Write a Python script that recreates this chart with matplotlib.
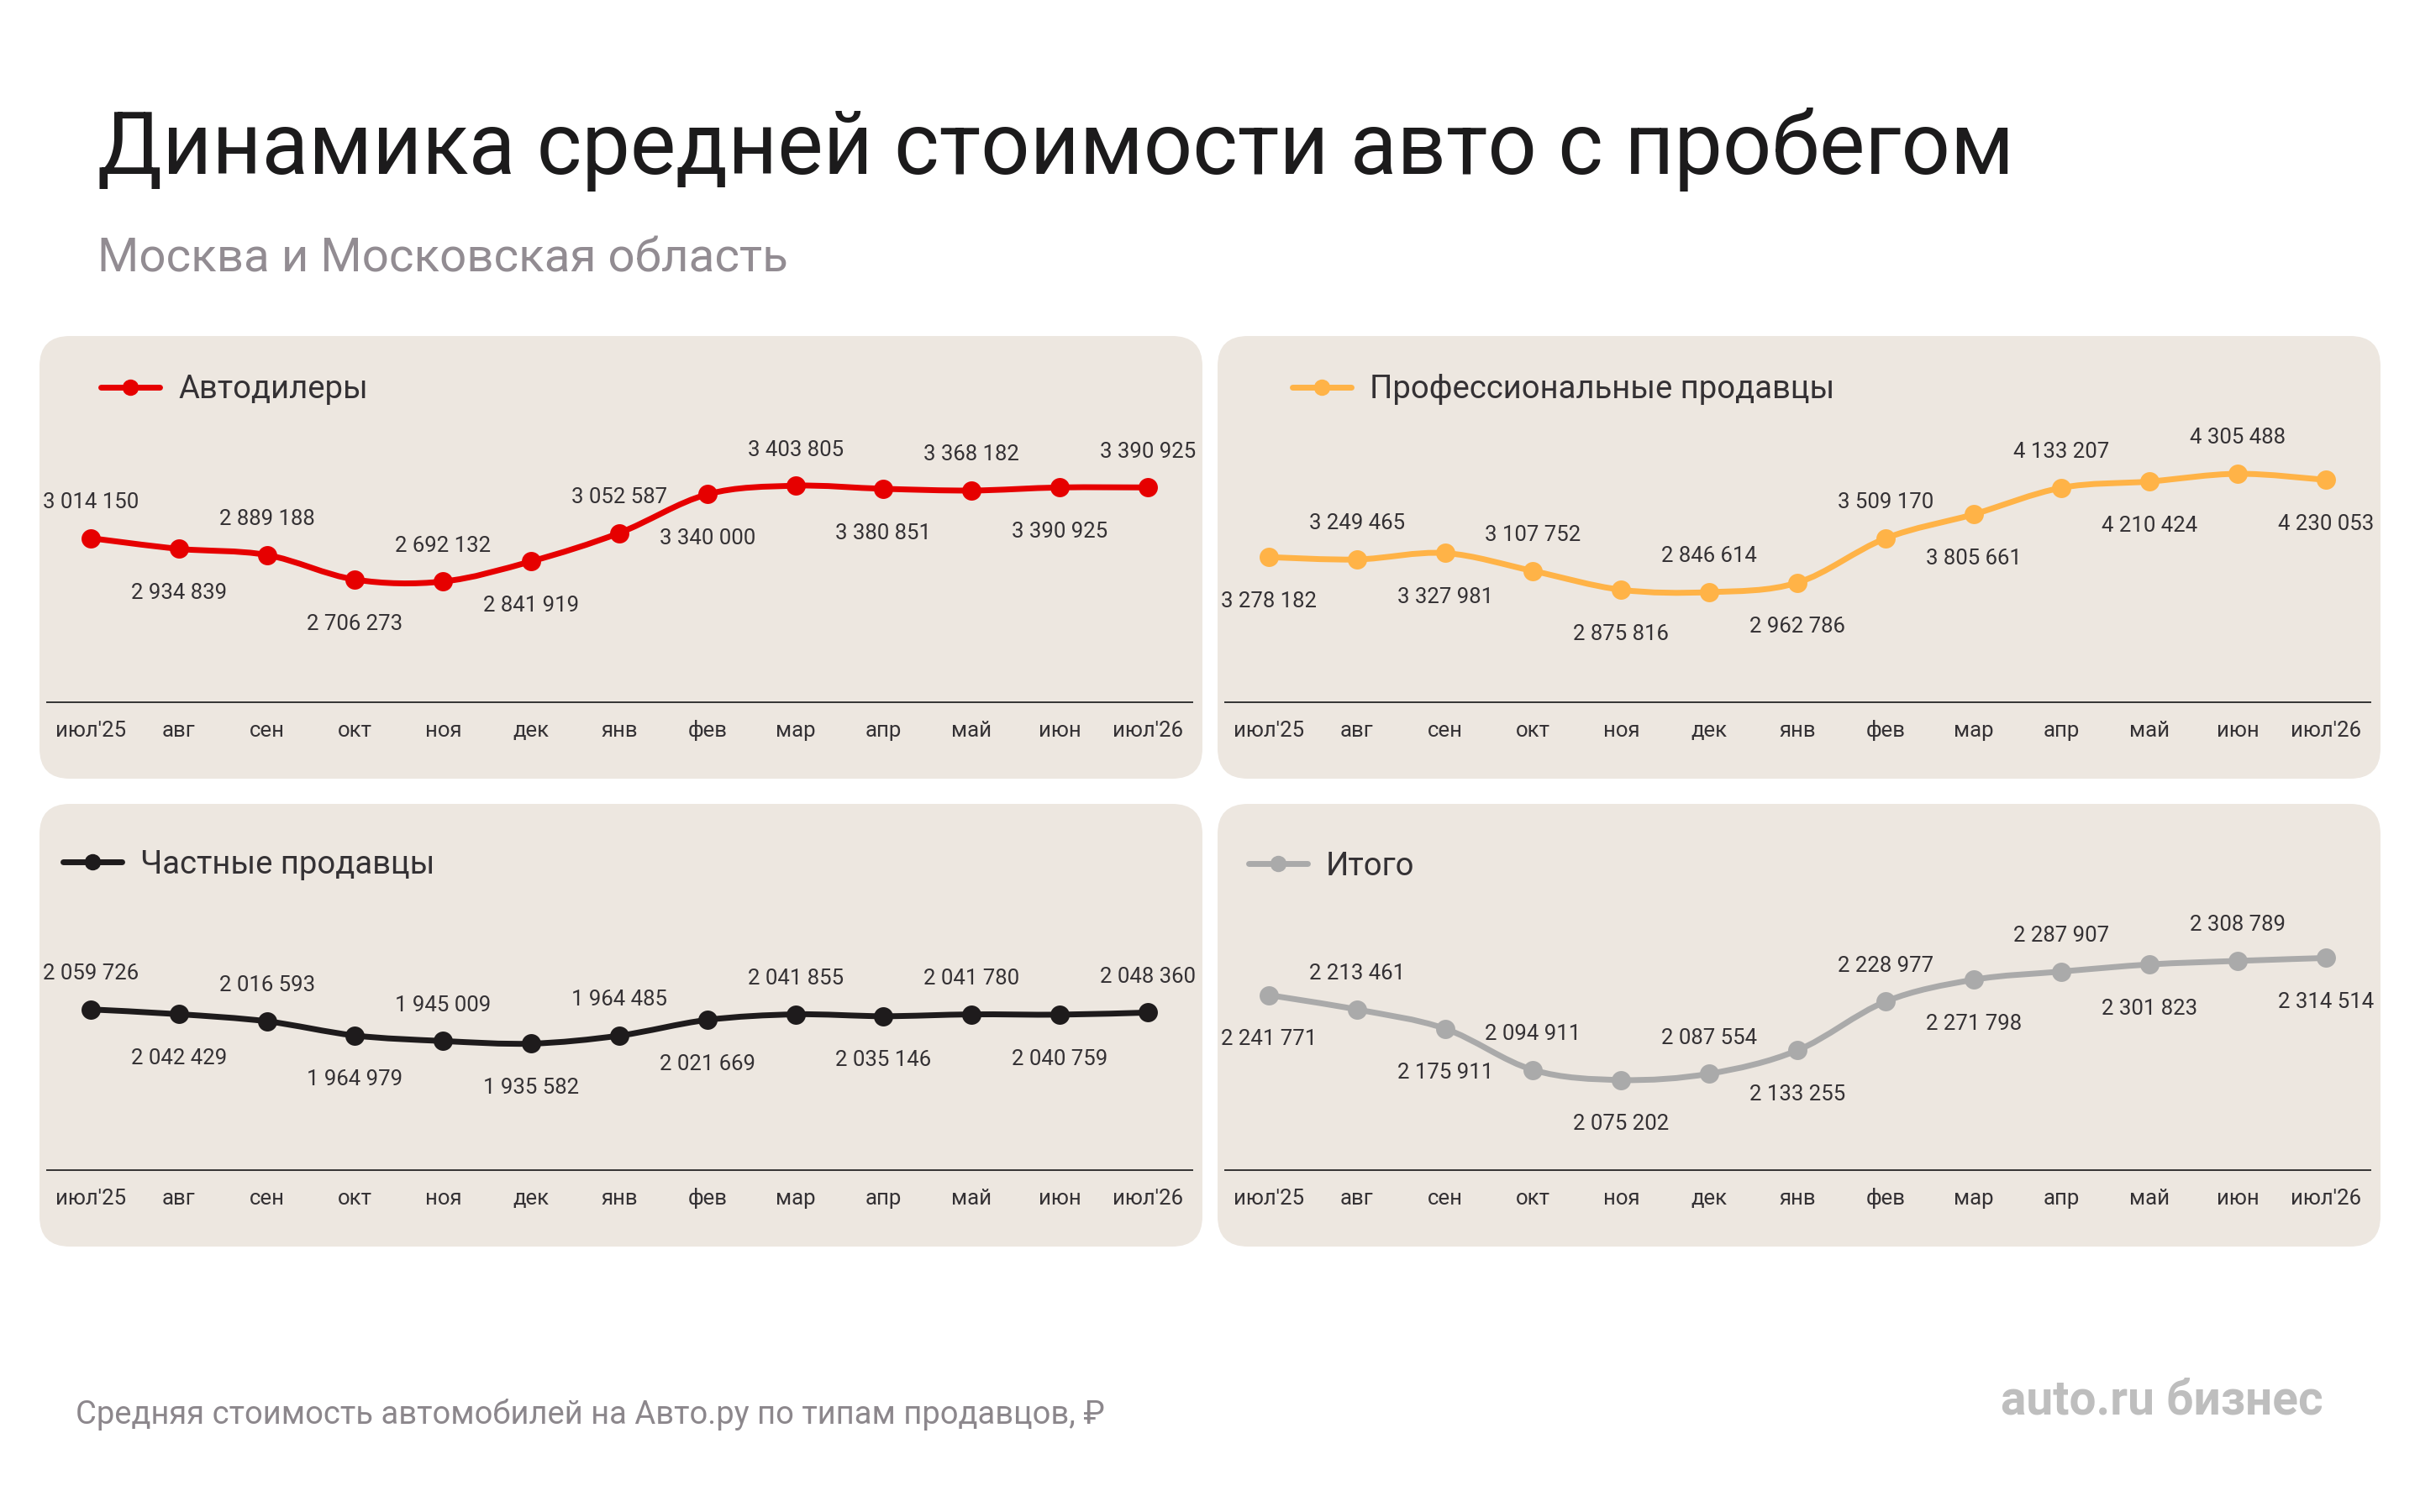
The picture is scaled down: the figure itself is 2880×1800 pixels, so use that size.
import matplotlib
matplotlib.use("Agg")
import matplotlib.pyplot as plt
from matplotlib.patches import FancyBboxPatch, PathPatch
from matplotlib.path import Path
from matplotlib.lines import Line2D

plt.rcParams['font.family'] = ['Roboto', 'DejaVu Sans']

# ---------------- data ----------------
months = ["июл'25", "авг", "сен", "окт", "ноя", "дек", "янв", "фев", "мар", "апр", "май", "июн", "июл'26"]
dealers = [3014150, 2934839, 2889188, 2706273, 2692132, 2841919, 3052587,
           3340000, 3403805, 3380851, 3368182, 3390925, 3390925]
pros = [3278182, 3249465, 3327981, 3107752, 2875816, 2846614, 2962786,
        3509170, 3805661, 4133207, 4210424, 4305488, 4230053]
private = [2059726, 2042429, 2016593, 1964979, 1945009, 1935582, 1964485,
           2021669, 2041855, 2035146, 2041780, 2040759, 2048360]
total = [2241771, 2213461, 2175911, 2094911, 2075202, 2087554, 2133255,
         2228977, 2271798, 2287907, 2301823, 2308789, 2314514]
series_names = ["Автодилеры", "Профессиональные продавцы", "Частные продавцы", "Итого"]
title = "Динамика средней стоимости авто с пробегом"
subtitle = "Москва и Московская область"
footer = "Средняя стоимость автомобилей на Авто.ру по типам продавцов, ₽"
logo = "auto.ru бизнес"

# ---------------- style / layout ----------------
W, H, DPI = 2880, 1800, 100
PANEL = "#EDE7E0"
TEXT = "#343134"
colors = ["#E60000", "#FFB347", "#1E1B1C", "#AAAAAA"]

# per panel: offsets, reference value/pixel for y scale, px per million, legend position, label side
panels = [
    dict(dx=0,    dy=0,   ref=(3390925, 580.3),  slope=160.2, leg=(120, 464),  first_up=True),
    dict(dx=1402, dy=0,   ref=(4305488, 564.0),  slope=96.6,  leg=(1538, 464), first_up=False),
    dict(dx=0,    dy=557, ref=(2059726, 1201.7), slope=327.8, leg=(75, 1029),  first_up=True),
    dict(dx=1402, dy=557, ref=(2075202, 1285.7), slope=607.0, leg=(1486, 1031), first_up=False),
]
series = [dealers, pros, private, total]

fig = plt.figure(figsize=(W / DPI, H / DPI), dpi=DPI)
fig.patch.set_facecolor("white")


def smooth_path(xs, ys):
    n = len(xs)
    verts = [(xs[0], ys[0])]
    codes = [Path.MOVETO]
    for i in range(n - 1):
        p0 = max(i - 1, 0)
        p3 = min(i + 2, n - 1)
        c1 = (xs[i] + (xs[i + 1] - xs[p0]) / 6, ys[i] + (ys[i + 1] - ys[p0]) / 6)
        c2 = (xs[i + 1] - (xs[p3] - xs[i]) / 6, ys[i + 1] - (ys[p3] - ys[i]) / 6)
        verts += [c1, c2, (xs[i + 1], ys[i + 1])]
        codes += [Path.CURVE4] * 3
    return Path(verts, codes)


def fmt(v):
    return f"{v:,}".replace(",", " ")


x = list(range(len(months)))
AX_H = 420
for k, (p, vals, name, col) in enumerate(zip(panels, series, series_names, colors)):
    dx, dy = p["dx"], p["dy"]
    # rounded panel background
    px0, py0, px1, py1 = 47 + dx, 400 + dy, 1431 + dx, 927 + dy
    patch = FancyBboxPatch((px0 / DPI, (H - py1) / DPI), (px1 - px0) / DPI, (py1 - py0) / DPI,
                           boxstyle=f"round,pad=0,rounding_size={36 / DPI}",
                           transform=fig.dpi_scale_trans, fc=PANEL, ec="none", zorder=-5)
    fig.add_artist(patch)

    axis_y = 836 + dy
    left, right = 56 + dx, 1419 + dx
    ax = fig.add_axes([left / W, 1 - axis_y / H, (right - left) / W, AX_H / H])
    ax.set_facecolor("none")
    ax.set_zorder(2)
    x_unit = 104.833
    ax.set_xlim((left - (108 + dx)) / x_unit, (right - (108 + dx)) / x_unit)
    rv, ry = p["ref"]
    ymin = rv - (axis_y - ry) / p["slope"] * 1e6
    ymax = ymin + AX_H / p["slope"] * 1e6
    ax.set_ylim(ymin, ymax)

    for s in ["top", "right", "left"]:
        ax.spines[s].set_visible(False)
    ax.spines["bottom"].set_color("#333333")
    ax.spines["bottom"].set_linewidth(1.4)
    ax.set_yticks([])
    ax.set_xticks(x)
    ax.set_xticklabels(months, fontsize=18.5, color=TEXT)
    ax.tick_params(axis="x", length=0, pad=29.5)
    for t in ax.get_xticklabels():
        t.set_verticalalignment("baseline")

    ax.add_patch(PathPatch(smooth_path(x, vals), fc="none", ec=col, lw=5,
                           capstyle="round", joinstyle="round", zorder=2))
    ax.plot(x, vals, "o", ms=16.5, color=col, mec="none", zorder=3, clip_on=False)

    for i, v in enumerate(vals):
        up = (i % 2 == 0) == p["first_up"]
        ax.annotate(fmt(v), xy=(i, v), xytext=(0, 25.7 if up else -43),
                    textcoords="offset points", ha="center", va="baseline",
                    fontsize=18.5, color=TEXT, annotation_clip=False)

    handle = Line2D([], [], color=col, lw=5, marker="o", ms=14, mec="none",
                    solid_capstyle="round")
    lx, ly = p["leg"]
    ax.legend([handle], [name], loc="center left",
              bbox_to_anchor=(lx / W, 1 - ly / H), bbox_transform=fig.transFigure,
              frameon=False, fontsize=27.5, labelcolor=TEXT,
              handlelength=70 / 38.2, handletextpad=22 / 38.2,
              borderpad=0, borderaxespad=0)

# ---------------- header / footer ----------------
t_title = fig.text(116 / W, 1 - 207 / H, title, fontsize=78, color="#1C1B1C",
                   ha="left", va="baseline")
t_sub = fig.text(116 / W, 1 - 324 / H, subtitle, fontsize=42, color="#928C92",
                 ha="left", va="baseline")
t_foot = fig.text(90 / W, 1 - 1695 / H, footer, fontsize=29, color="#8C878C",
                  ha="left", va="baseline")
t_logo = fig.text(2765 / W, 1 - 1683 / H, logo, fontsize=29, color="#BEBEBE",
                  ha="right", va="baseline", fontweight="bold")

renderer = fig.canvas.get_renderer()
for t, target in [(t_title, 2282), (t_sub, 822), (t_foot, 1225), (t_logo, 384)]:
    w = t.get_window_extent(renderer).width
    t.set_fontsize(t.get_fontsize() * target / w)

fig.savefig("out.png", dpi=DPI, facecolor="white")
